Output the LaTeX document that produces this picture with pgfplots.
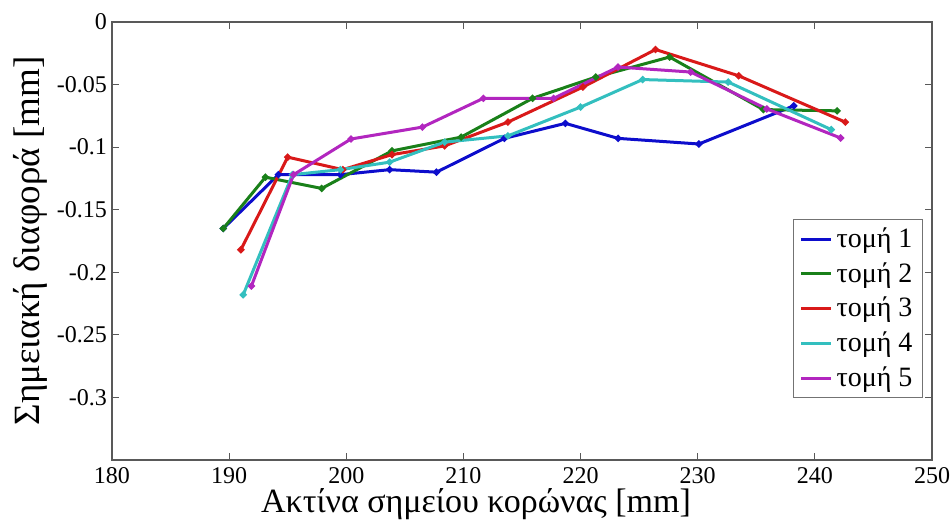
\documentclass[border=0pt]{standalone}
\usepackage{pgfplots}
\pgfplotsset{compat=1.18}
\usepackage{fontspec}
\setmainfont{Liberation Serif}
\definecolor{c1}{rgb}{0.05,0.05,0.80}
\definecolor{c2}{rgb}{0.10,0.50,0.10}
\definecolor{c3}{rgb}{0.85,0.10,0.10}
\definecolor{c4}{rgb}{0.20,0.75,0.75}
\definecolor{c5}{rgb}{0.70,0.15,0.75}
\begin{document}
\begin{tikzpicture}
\begin{axis}[
  scale only axis, width=410pt, height=219pt,
  xmin=180, xmax=250, ymin=-0.35, ymax=0,
  xtick={180,190,200,210,220,230,240,250},
  xticklabels={180,190,200,210,220,230,240,250},
  ytick={-0.3,-0.25,-0.2,-0.15,-0.1,-0.05,0},
  yticklabels={-0.3,-0.25,-0.2,-0.15,-0.1,-0.05,0},
  tick align=inside, major tick length=3.5pt,
  axis line style={draw=black!65, line width=0.6pt},
  every tick/.style={draw=black!65, line width=0.6pt},
  ticklabel style={font=\fontsize{12}{13}\selectfont},
  xticklabel style={inner sep=0pt, yshift=-3.5pt},
  yticklabel style={xshift=1pt},
  xlabel={Ακτίνα σημείου κορώνας [mm]},
  ylabel={Σημειακή διαφορά [mm]},
  label style={font=\fontsize{18.5}{20}\selectfont},
  xlabel style={font=\fontsize{17}{20}\selectfont, inner sep=0pt,
    at={(axis description cs:0.5,0)}, anchor=base, yshift=-26.5pt, xshift=-23pt},
  ylabel style={yshift=-2pt},
  clip=false,
  legend style={at={(0.989,0.1416)}, anchor=south east, draw=black!55, line width=0.5pt,
    font=\fontsize{14}{16}\selectfont, row sep=2pt, inner xsep=3pt, inner ysep=2pt},
  legend cell align=left,
  legend image code/.code={\draw[#1, mark=none, line width=1.5pt] (0pt,0pt) -- (15pt,0pt);},
  every axis plot/.append style={line width=1.5pt, mark=*, mark size=0.9pt},
]
\addplot[c1, mark options={fill=c1}] coordinates {
(189.5,-0.165) (194.2,-0.122) (199.5,-0.122) (203.7,-0.118) (207.7,-0.120)
(213.5,-0.093) (218.7,-0.081) (223.2,-0.093) (230.1,-0.0975) (238.2,-0.067)};
\addlegendentry{τομή 1}
\addplot[c2, mark options={fill=c2}] coordinates {
(189.5,-0.165) (193.1,-0.124) (197.9,-0.133) (203.9,-0.103) (209.8,-0.092)
(215.9,-0.061) (221.3,-0.044) (227.6,-0.028) (235.6,-0.070) (241.9,-0.071)};
\addlegendentry{τομή 2}
\addplot[c3, mark options={fill=c3}] coordinates {
(191.0,-0.182) (195.0,-0.108) (199.7,-0.118) (203.9,-0.106) (208.4,-0.099)
(213.8,-0.080) (220.2,-0.052) (226.4,-0.022) (233.5,-0.043) (242.6,-0.080)};
\addlegendentry{τομή 3}
\addplot[c4, mark options={fill=c4}] coordinates {
(191.2,-0.218) (195.4,-0.122) (199.5,-0.118) (203.7,-0.112) (208.4,-0.096)
(213.8,-0.091) (220.0,-0.068) (225.3,-0.046) (232.6,-0.048) (241.4,-0.086)};
\addlegendentry{τομή 4}
\addplot[c5, mark options={fill=c5}] coordinates {
(191.9,-0.211) (195.5,-0.122) (200.4,-0.0935) (206.5,-0.084) (211.7,-0.061)
(217.7,-0.061) (223.2,-0.036) (229.4,-0.040) (235.9,-0.0695) (242.2,-0.0927)};
\addlegendentry{τομή 5}
\end{axis}
\pgfresetboundingbox
\path ([shift={(-56pt,-31pt)}]current axis.south west) rectangle ([shift={(10pt,11pt)}]current axis.north east);
\end{tikzpicture}
\end{document}
